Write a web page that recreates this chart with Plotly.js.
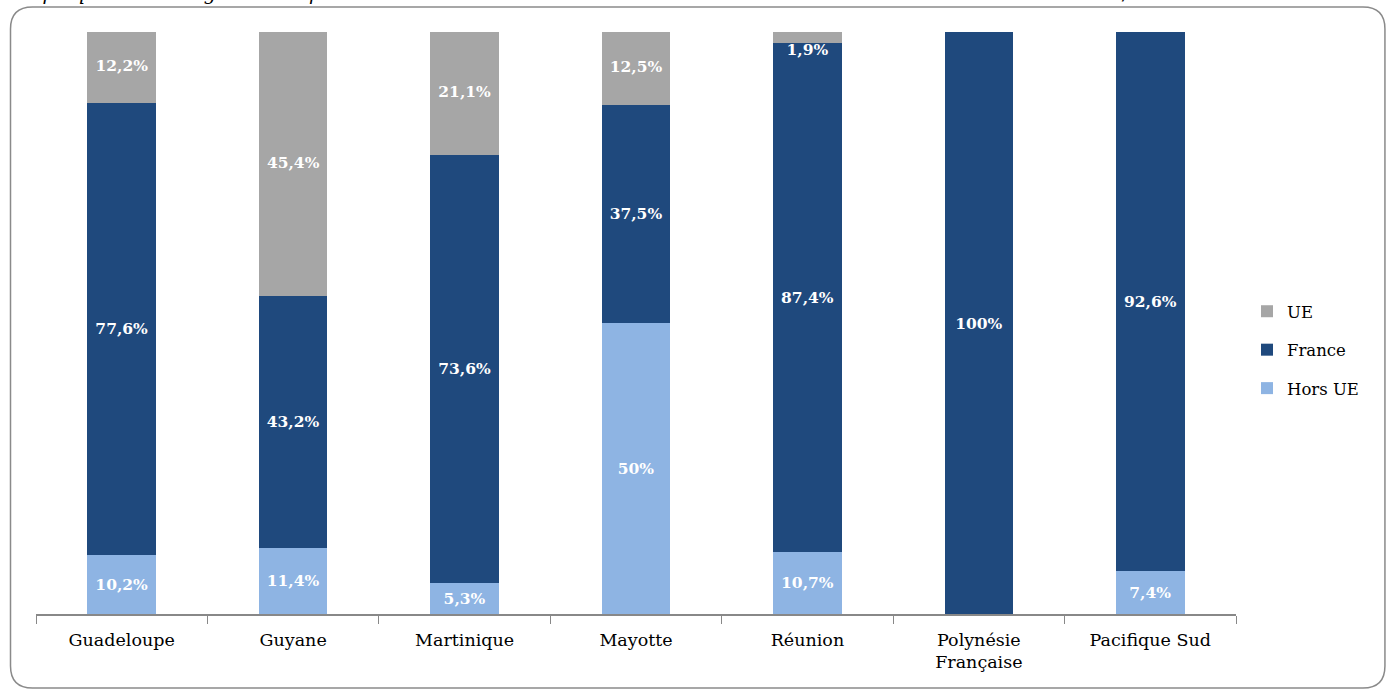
<!DOCTYPE html>
<html><head><meta charset="utf-8">
<script src="https://cdn.plot.ly/plotly-3.0.1.min.js"></script>
<style>html,body{margin:0;padding:0;background:#fff;}#chart{width:1387px;height:689px;}</style>
</head><body><div id="chart"></div>
<script>
const categories = ["Guadeloupe","Guyane","Martinique","Mayotte","Réunion","Polynésie<br>Française","Pacifique Sud"];
const horsUE = [10.2, 11.4, 5.3, 50, 10.7, 0, 7.4];
const france = [77.6, 43.2, 73.6, 37.5, 87.4, 100, 92.6];
const ue = [12.2, 45.4, 21.1, 12.5, 1.9, 0, 0];
const caption = "Graphique n° 3 : Origine des diplômes des médecins nouvellement inscrits au cours de l'année 2013 dans les DOM / COM";

const FONT = "DejaVu Serif, Liberation Serif, serif";
function labels(arr){ return arr.map(v => v ? String(v).replace('.', ',') + '%' : ''); }

const W = 1387, H = 689, L = 35.5, R = 1236, T = 32, B = 614;
const px = x => (x - L) / (R - L);
const py = y => (B - y) / (B - T);
const LABELFONT = {family: FONT, size: 15.5, color: '#ffffff', weight: 'bold'};

function trace(name, vals, color, grp, rank, withText){
  return {
    type: 'bar', name: name, x: categories, y: vals,
    marker: {color: color}, legendgroup: grp, legendrank: rank,
    text: withText ? labels(vals) : undefined, textposition: withText ? 'inside' : 'none',
    insidetextanchor: 'middle', constraintext: 'none', cliponaxis: false,
    textfont: LABELFONT, hoverinfo: 'x+y+name'
  };
}
// UE labels as a text layer (a too-small segment gets its label just below it)
const ueBase = horsUE.map((v, i) => v + france[i]);
const ueLabelY = ue.map((v, i) => v < 5 ? ueBase[i] : ueBase[i] + v / 2);
const ueLabelPos = ue.map(v => v < 5 ? 'bottom center' : 'middle center');
const data = [
  trace('Hors UE', horsUE, '#8EB4E3', 'c', 3, true),
  trace('France', france, '#1F497D', 'b', 2, true),
  trace('UE', ue, '#A6A6A6', 'a', 1, false),
  {type: 'scatter', mode: 'text', x: categories, y: ueLabelY, text: labels(ue),
   textposition: ueLabelPos, textfont: LABELFONT, showlegend: false, cliponaxis: false, hoverinfo: 'skip'}
];

// rounded border
const x0 = 10, x1 = 1385, y0 = 7, y1 = 688, r = 22;
const path = `M ${px(x0+r)},${py(y0)} L ${px(x1-r)},${py(y0)} Q ${px(x1)},${py(y0)} ${px(x1)},${py(y0+r)} ` +
  `L ${px(x1)},${py(y1-r)} Q ${px(x1)},${py(y1)} ${px(x1-r)},${py(y1)} ` +
  `L ${px(x0+r)},${py(y1)} Q ${px(x0)},${py(y1)} ${px(x0)},${py(y1-r)} ` +
  `L ${px(x0)},${py(y0+r)} Q ${px(x0)},${py(y0)} ${px(x0+r)},${py(y0)} Z`;

const layout = {
  width: W, height: H,
  margin: {l: L, r: W - R, t: T, b: H - B, pad: 0},
  paper_bgcolor: '#ffffff', plot_bgcolor: '#ffffff',
  barmode: 'stack', bargap: 0.6,
  font: {family: FONT, size: 17, color: '#000000'},
  showlegend: true,
  legend: {x: px(1247), xanchor: 'left', y: py(350), yanchor: 'middle',
    traceorder: 'grouped', tracegroupgap: 14,
    font: {family: FONT, size: 16.5, color: '#000'}, itemwidth: 30, bgcolor: 'rgba(0,0,0,0)'},
  xaxis: {type: 'category', showline: true, linecolor: '#888888', linewidth: 1.5,
    ticks: 'outside', tickson: 'boundaries', ticklen: 8, tickcolor: '#888888', tickwidth: 1,
    ticklabelstandoff: 9,
    tickfont: {family: FONT, size: 17.5, color: '#000'}, showgrid: false, zeroline: false, fixedrange: true},
  yaxis: {range: [0, 100.0001], visible: false, showgrid: false, zeroline: false, fixedrange: true},
  shapes: [{type: 'path', xref: 'paper', yref: 'paper', path: path,
    line: {color: '#8a8a8a', width: 1.5}, fillcolor: 'rgba(0,0,0,0)', layer: 'below'}],
  annotations: [{xref: 'paper', yref: 'paper', x: px(4), y: py(-7), xanchor: 'left', yanchor: 'middle',
    text: '<i>' + caption + '</i>', showarrow: false,
    font: {family: FONT, size: 19, color: '#000'}}]
};
Plotly.newPlot('chart', data, layout, {displayModeBar: false, staticPlot: true});
</script></body></html>
